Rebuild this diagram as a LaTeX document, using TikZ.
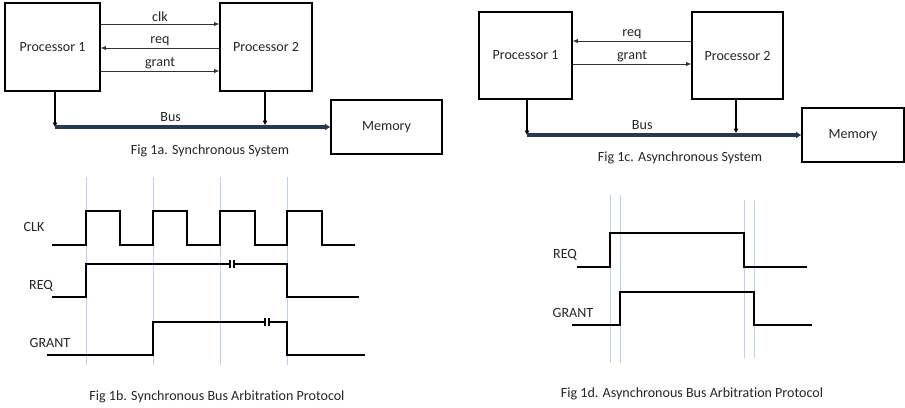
\documentclass[tikz,border=0pt]{standalone}
\usepackage{fontspec}
\setmainfont[Ligatures=NoCommon]{Carlito}
\usepackage{tikz}
\usetikzlibrary{positioning,arrows.meta,calc}
\definecolor{guide}{rgb}{0.74,0.82,0.93}
\definecolor{buscol}{rgb}{0.16,0.22,0.32}
\newcommand{\gapmark}[2]{%
  \fill[white] (#1-2,#2-3) rectangle (#1+2,#2+3);
  \draw[line width=0.9pt] (#1-2,#2-4) -- (#1-2,#2+4) (#1+2,#2-4) -- (#1+2,#2+4);}

\begin{document}
\begin{tikzpicture}[x=0.02cm, y=-0.02cm,
    font=\fontsize{8}{9.5}\selectfont,
    box/.style={draw, rectangle, line width=0.7pt, align=center, inner sep=0pt, text=black!85},
    procbox/.style={box, minimum height=1.76cm},
    membox/.style={box, minimum height=1.08cm},
    sig/.style={-{Latex[length=3pt,width=2.4pt]}, line width=0.4pt, draw=black!80},
    drop/.style={-{Latex[length=2.5pt,width=3pt]}, line width=1.6pt},
    bus/.style={-{Latex[length=3pt,width=4pt]}, line width=2pt, draw=buscol},
    lbl/.style={inner sep=1pt, text=black!85},
    wave/.style={line width=1.1pt, line join=miter},
    guideline/.style={draw=guide, line width=0.5pt},
    caption/.style={inner sep=1pt, text=black!85}
]
    \useasboundingbox (0,0) rectangle (905,407);

    % Fig 1a: synchronous system
    \node[procbox, minimum width=1.9cm] (p1a) at (52.5,47) {Processor 1};
    \node[procbox, minimum width=1.84cm] (p2a) at (266,47) {Processor 2};
    \node[membox, minimum width=2.22cm] (mema) at (386.5,127) {Memory};
    \draw[sig] (p1a.east |- 0,24) -- (p2a.west |- 0,24) node[lbl, midway, above] {clk};
    \draw[sig] (p2a.west |- 0,48) -- (p1a.east |- 0,48) node[lbl, midway, above] {req};
    \draw[sig] (p1a.east |- 0,71) -- (p2a.west |- 0,71) node[lbl, midway, above] {grant};
    \coordinate (busa) at (55,127);
    \draw[drop] (p1a.south -| busa) -- (busa);
    \draw[drop] (p2a.south -| 265,0) -- (265,125);
    \draw[bus] (busa) -- (mema.west) node[lbl, pos=0.42, above=1pt] {Bus};
    \node[caption] (capa) at (210,151) {Fig 1a. Synchronous System};

    % Fig 1c: asynchronous system
    \node[procbox, minimum width=1.86cm, minimum height=1.74cm] (p1c) at (525.5,55.5) {Processor 1};
    \node[procbox, minimum width=1.82cm, minimum height=1.74cm] (p2c) at (737.5,55.5) {Processor 2};
    \node[membox, minimum width=2.04cm] (memc) at (853,135) {Memory};
    \draw[sig] (p2c.west |- 0,41) -- (p1c.east |- 0,41) node[lbl, midway, above] {req};
    \draw[sig] (p1c.east |- 0,64) -- (p2c.west |- 0,64) node[lbl, midway, above] {grant};
    \coordinate (busc) at (527,135);
    \draw[drop] (p1c.south -| busc) -- (busc);
    \draw[drop] (p2c.south -| 736,0) -- (736,133);
    \draw[bus] (busc) -- (memc.west) node[lbl, pos=0.42, above=1pt] {Bus};
    \node[caption] (capc) at (680,158) {Fig 1c. Asynchronous System};

    % Fig 1b: synchronous timing
    \foreach \gx in {86,153,220,287}
        \draw[guideline] (\gx,177) -- (\gx,365);
    \node[lbl] (clkb) at (34,227) {CLK};
    \node[lbl] (reqb) at (41,286) {REQ};
    \node[lbl] (grantb) at (50,343) {GRANT};
    \draw[wave] (52,245) -- (86,245) -- (86,211) -- (120,211) -- (120,245)
        -- (153,245) -- (153,211) -- (187,211) -- (187,245)
        -- (220,245) -- (220,211) -- (255,211) -- (255,245)
        -- (287,245) -- (287,211) -- (322,211) -- (322,245) -- (355,245);
    \draw[wave] (52,297) -- (86,297) -- (86,264) -- (287,264) -- (287,297) -- (359,297);
    \draw[wave] (47,355) -- (153,355) -- (153,322) -- (287,322) -- (287,355) -- (365,355);
    \gapmark{232}{264}
    \gapmark{267}{322}
    \node[caption] (capb) at (217,397) {Fig 1b. Synchronous Bus Arbitration Protocol};

    % Fig 1d: asynchronous timing
    \draw[guideline] (610,195) -- (610,363);
    \draw[guideline] (620,195) -- (620,363);
    \draw[guideline] (744,200) -- (744,358);
    \draw[guideline] (754,200) -- (754,358);
    \node[lbl] (reqd) at (565,255) {REQ};
    \node[lbl] (grantd) at (573,313) {GRANT};
    \draw[wave] (577,267) -- (610,267) -- (610,233) -- (744,233) -- (744,267) -- (807,267);
    \draw[wave] (572,325) -- (620,325) -- (620,292) -- (754,292) -- (754,325) -- (812,325);
    \node[caption] (capd) at (692,394) {Fig 1d. Asynchronous Bus Arbitration Protocol};

\end{tikzpicture}
\end{document}
